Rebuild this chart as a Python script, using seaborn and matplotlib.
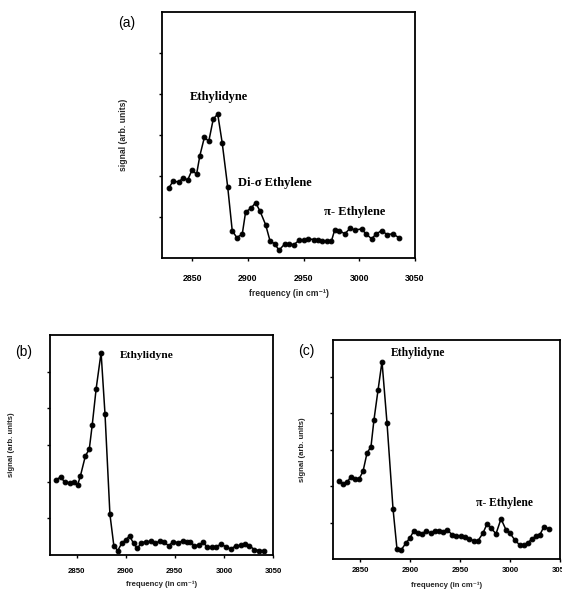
import matplotlib
matplotlib.use("Agg")
import matplotlib.pyplot as plt
import seaborn as sns
import pandas as pd

# ---- data ----
a_freq = [2829, 2833, 2838, 2842, 2846, 2850, 2854, 2857, 2861, 2865,
          2869, 2873, 2877, 2882, 2886, 2890, 2895, 2898, 2903, 2907,
          2911, 2916, 2920, 2924, 2928, 2933, 2937, 2941, 2946, 2950,
          2954, 2959, 2963, 2967, 2971, 2975, 2978, 2982, 2987, 2992,
          2996, 3002, 3006, 3011, 3015, 3020, 3025, 3030, 3036]
a_signal = [1.70, 1.88, 1.85, 1.96, 1.90, 2.15, 2.04, 2.50, 2.94, 2.85,
            3.39, 3.51, 2.81, 1.72, 0.67, 0.50, 0.58, 1.12, 1.22, 1.35,
            1.14, 0.81, 0.41, 0.35, 0.19, 0.34, 0.35, 0.32, 0.43, 0.43,
            0.47, 0.45, 0.44, 0.41, 0.41, 0.41, 0.69, 0.67, 0.59, 0.73,
            0.68, 0.71, 0.59, 0.47, 0.58, 0.67, 0.57, 0.59, 0.49]

b_freq = [2829, 2834, 2838, 2843, 2847, 2851, 2854, 2859, 2863, 2866,
          2870, 2875, 2879, 2884, 2888, 2892, 2896, 2900, 2904, 2908,
          2912, 2916, 2921, 2926, 2930, 2935, 2939, 2944, 2948, 2953,
          2958, 2962, 2966, 2970, 2975, 2979, 2983, 2988, 2992, 2997,
          3002, 3007, 3012, 3017, 3022, 3026, 3031, 3036, 3041]
b_signal = [2.05, 2.13, 1.98, 1.97, 1.98, 1.90, 2.16, 2.70, 2.89, 3.55,
            4.54, 5.52, 3.84, 1.11, 0.25, 0.12, 0.32, 0.41, 0.52, 0.32,
            0.18, 0.34, 0.36, 0.37, 0.32, 0.38, 0.35, 0.25, 0.36, 0.34,
            0.38, 0.35, 0.35, 0.25, 0.28, 0.35, 0.21, 0.23, 0.23, 0.29,
            0.23, 0.16, 0.25, 0.26, 0.31, 0.25, 0.15, 0.12, 0.12]

c_freq = [2829, 2833, 2837, 2841, 2845, 2849, 2853, 2857, 2861, 2864,
          2868, 2872, 2877, 2883, 2887, 2891, 2896, 2900, 2904, 2908,
          2912, 2916, 2921, 2925, 2929, 2933, 2937, 2942, 2946, 2951,
          2955, 2959, 2964, 2968, 2973, 2977, 2981, 2986, 2991, 2996,
          3000, 3005, 3010, 3014, 3018, 3022, 3026, 3030, 3034, 3039]
c_signal = [2.15, 2.06, 2.10, 2.26, 2.19, 2.19, 2.40, 2.90, 3.08, 3.82,
            4.62, 5.41, 3.73, 1.38, 0.27, 0.24, 0.44, 0.58, 0.78, 0.71,
            0.69, 0.77, 0.71, 0.78, 0.78, 0.75, 0.80, 0.67, 0.64, 0.62,
            0.60, 0.55, 0.50, 0.50, 0.71, 0.96, 0.85, 0.69, 1.10, 0.80,
            0.71, 0.51, 0.38, 0.37, 0.44, 0.56, 0.62, 0.67, 0.89, 0.82]

x_ticks = [2850, 2900, 2950, 3000, 3050]
x_tick_labels = ["2850", "2900", "2950", "3000", "3050"]
y_ticks = [1, 2, 3, 4, 5]

panel_names = ["(a)", "(b)", "(c)"]
a_notes = [("Ethylidyne", 2847.5, 3.93), ("Di-\u03c3 Ethylene", 2891.5, 1.83), ("\u03c0- Ethylene", 2968, 1.12)]
b_notes = [("Ethylidyne", 2894, 5.45)]
c_notes = [("Ethylidyne", 2880.5, 5.65), ("\u03c0- Ethylene", 2966.5, 1.54)]

xlabel = "frequency (in cm\u207b\u00b9)"
ylabel = "signal (arb. units)"

sns.set_theme(style="ticks")
plt.rcParams["font.family"] = ["Liberation Sans", "DejaVu Sans"]

W, H = 562, 594
fig = plt.figure(figsize=(W / 100, H / 100), dpi=100)


def frac(l, t, r, b):
    return [l / W, 1 - b / H, (r - l) / W, (b - t) / H]


panels = [
    dict(rect=frac(162, 12, 415, 258), freq=a_freq, sig=a_signal, notes=a_notes,
         nfs=9.0, tfs=6.3, lfs=6.2, lab=(127, 23), tpad=9, xlp=4, ylp=13),
    dict(rect=frac(50, 335, 273, 555), freq=b_freq, sig=b_signal, notes=b_notes,
         nfs=8.2, tfs=5.6, lfs=5.6, lab=(24, 352), tpad=7, xlp=4, ylp=16),
    dict(rect=frac(333, 340, 560, 559), freq=c_freq, sig=c_signal, notes=c_notes,
         nfs=8.4, tfs=5.6, lfs=5.6, lab=(306, 351), tpad=3, xlp=6, ylp=14),
]

for name, p in zip(panel_names, panels):
    ax = fig.add_axes(p["rect"])
    df = pd.DataFrame({"frequency": p["freq"], "signal": p["sig"]})
    sns.lineplot(data=df, x="frequency", y="signal", ax=ax, color="black",
                 marker="o", markersize=3.4, markeredgecolor="black",
                 linewidth=1.1, errorbar=None)
    ax.set_xlim(2823, 3050)
    ax.set_ylim(0, 6)
    ax.set_xticks(x_ticks)
    ax.set_xticklabels(x_tick_labels, fontsize=p["tfs"], fontweight="bold")
    ax.set_yticks(y_ticks)
    ax.set_yticklabels([])
    ax.tick_params(direction="out", length=2.5, width=1.0, pad=p["tpad"], colors="black")
    for s in ax.spines.values():
        s.set_visible(True)
        s.set_linewidth(1.3)
        s.set_color("black")
    ax.set_xlabel(xlabel, fontsize=p["lfs"], fontweight="bold", labelpad=p["xlp"])
    ax.set_ylabel(ylabel, fontsize=p["lfs"], fontweight="bold", labelpad=p["ylp"])
    for txt, x, y in p["notes"]:
        ax.text(x, y, txt, fontsize=p["nfs"], fontweight="bold", va="center",
                family=["Liberation Serif", "DejaVu Serif"], color="black")
    fig.text(p["lab"][0] / W, 1 - p["lab"][1] / H, name, fontsize=10,
             ha="center", va="center", color="black")

fig.savefig("out.png", dpi=100, facecolor="white")
